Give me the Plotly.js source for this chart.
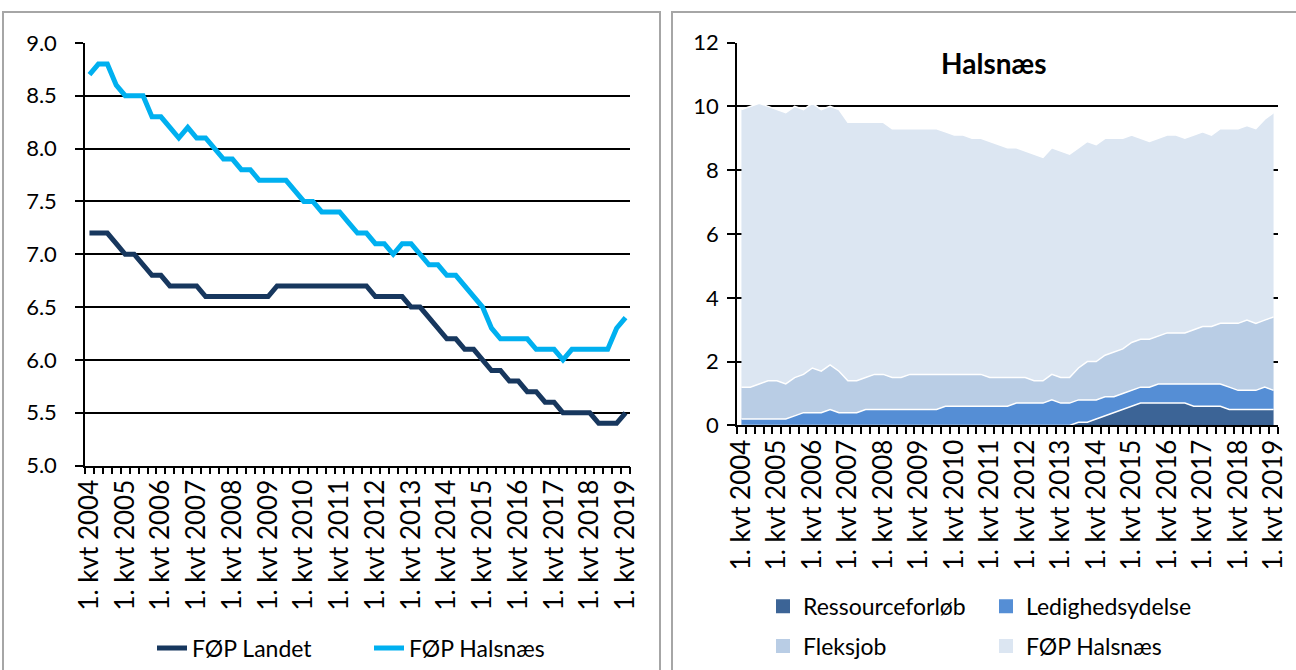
<!DOCTYPE html>
<html>
<head>
<meta charset="utf-8">
<script src="https://cdn.plot.ly/plotly-3.0.1.min.js"></script>
<style>html,body{margin:0;padding:0;background:#fff}#chart{width:1296px;height:670px}</style>
</head>
<body>
<div id="chart"></div>
<script>
// Categories: quarters 1. kvt 2004 ... 1. kvt 2019
const years = [2004,2005,2006,2007,2008,2009,2010,2011,2012,2013,2014,2015,2016,2017,2018,2019];
const quarters = [];
years.forEach(function(y){ [1,2,3,4].forEach(function(q){ if (y < 2019 || q === 1) quarters.push(q + '. kvt ' + y); }); });

const tickLabels = ['1. kvt 2004','1. kvt 2005','1. kvt 2006','1. kvt 2007','1. kvt 2008','1. kvt 2009','1. kvt 2010','1. kvt 2011',
                    '1. kvt 2012','1. kvt 2013','1. kvt 2014','1. kvt 2015','1. kvt 2016','1. kvt 2017','1. kvt 2018','1. kvt 2019'];

// Left chart series
const fopLandet = [7.2,7.2,7.2,7.1,7.0,7.0,6.9,6.8,6.8,6.7,
                   6.7,6.7,6.7,6.6,6.6,6.6,6.6,6.6,6.6,6.6,
                   6.6,6.7,6.7,6.7,6.7,6.7,6.7,6.7,6.7,6.7,
                   6.7,6.7,6.6,6.6,6.6,6.6,6.5,6.5,6.4,6.3,
                   6.2,6.2,6.1,6.1,6.0,5.9,5.9,5.8,5.8,5.7,
                   5.7,5.6,5.6,5.5,5.5,5.5,5.5,5.4,5.4,5.4,
                   5.5];
const fopHalsnaes = [8.7,8.8,8.8,8.6,8.5,8.5,8.5,8.3,8.3,8.2,
                     8.1,8.2,8.1,8.1,8.0,7.9,7.9,7.8,7.8,7.7,
                     7.7,7.7,7.7,7.6,7.5,7.5,7.4,7.4,7.4,7.3,
                     7.2,7.2,7.1,7.1,7.0,7.1,7.1,7.0,6.9,6.9,
                     6.8,6.8,6.7,6.6,6.5,6.3,6.2,6.2,6.2,6.2,
                     6.1,6.1,6.1,6.0,6.1,6.1,6.1,6.1,6.1,6.3,
                     6.4];

// Right chart (stacked) series
const ressourceforloeb = [0,0,0,0,0,0,0,0,0,0,
                          0,0,0,0,0,0,0,0,0,0,
                          0,0,0,0,0,0,0,0,0,0,
                          0,0,0,0,0,0,0,0,0.1,0.1,
                          0.2,0.3,0.4,0.5,0.6,0.7,0.7,0.7,0.7,0.7,
                          0.7,0.6,0.6,0.6,0.6,0.5,0.5,0.5,0.5,0.5,
                          0.5];
const ledighedsydelse = [0.2,0.2,0.2,0.2,0.2,0.2,0.3,0.4,0.4,0.4,
                         0.5,0.4,0.4,0.4,0.5,0.5,0.5,0.5,0.5,0.5,
                         0.5,0.5,0.5,0.6,0.6,0.6,0.6,0.6,0.6,0.6,
                         0.6,0.7,0.7,0.7,0.7,0.8,0.7,0.7,0.7,0.7,
                         0.6,0.6,0.5,0.5,0.5,0.5,0.5,0.6,0.6,0.6,
                         0.6,0.7,0.7,0.7,0.7,0.7,0.6,0.6,0.6,0.7,
                         0.6];
const fleksjob = [1.0,1.0,1.1,1.2,1.2,1.1,1.2,1.2,1.4,1.3,
                  1.4,1.3,1.0,1.0,1.0,1.1,1.1,1.0,1.0,1.1,
                  1.1,1.1,1.1,1.0,1.0,1.0,1.0,1.0,0.9,0.9,
                  0.9,0.8,0.8,0.7,0.7,0.8,0.8,0.8,1.0,1.2,
                  1.2,1.3,1.4,1.4,1.5,1.5,1.5,1.5,1.6,1.6,
                  1.6,1.7,1.8,1.8,1.9,2.0,2.1,2.2,2.1,2.1,
                  2.3];

const xi = quarters.map(function(q, i){ return i; });
const tickIdx = tickLabels.map(function(l){ return quarters.indexOf(l); });

const FONT = 'Lato, "Open Sans", sans-serif';
const W = 1296, H = 670;
function px(x){ return x / W; }
function py(y){ return 1 - y / H; }

const colLandet = '#17375E', colHals = '#00B0F0';
const colRes = '#3C6496', colLed = '#558ED5', colFleks = '#B9CDE5', colFop = '#DCE6F2';

const traces = [
  {x: xi, y: fopLandet, text: quarters, name: 'FØP Landet', type: 'scatter', mode: 'lines',
   line: {color: colLandet, width: 5}, xaxis: 'x', yaxis: 'y', legend: 'legend'},
  {x: xi, y: fopHalsnaes, text: quarters, name: 'FØP Halsnæs', type: 'scatter', mode: 'lines',
   line: {color: colHals, width: 5}, xaxis: 'x', yaxis: 'y', legend: 'legend'},

  {x: xi, y: ressourceforloeb, name: 'Ressourceforløb', type: 'scatter', mode: 'lines', stackgroup: 'one',
   line: {color: '#FFFFFF', width: 1.5}, fillcolor: colRes, xaxis: 'x2', yaxis: 'y2', showlegend: false},
  {x: xi, y: ledighedsydelse, name: 'Ledighedsydelse', type: 'scatter', mode: 'lines', stackgroup: 'one',
   line: {color: '#FFFFFF', width: 1.5}, fillcolor: colLed, xaxis: 'x2', yaxis: 'y2', showlegend: false},
  {x: xi, y: fleksjob, name: 'Fleksjob', type: 'scatter', mode: 'lines', stackgroup: 'one',
   line: {color: '#FFFFFF', width: 1.5}, fillcolor: colFleks, xaxis: 'x2', yaxis: 'y2', showlegend: false},
  {x: xi, y: fopHalsnaes, name: 'FØP Halsnæs', type: 'scatter', mode: 'lines', stackgroup: 'one',
   line: {color: '#FFFFFF', width: 1.5}, fillcolor: colFop, xaxis: 'x2', yaxis: 'y2', showlegend: false},

  // legend entries (square swatches) for the stacked chart
  {x: [null], y: [null], name: 'Ressourceforløb', type: 'scatter', mode: 'markers',
   marker: {symbol: 'square', size: 14, color: colRes}, xaxis: 'x2', yaxis: 'y2', legend: 'legend2'},
  {x: [null], y: [null], name: 'Ledighedsydelse', type: 'scatter', mode: 'markers',
   marker: {symbol: 'square', size: 14, color: colLed}, xaxis: 'x2', yaxis: 'y2', legend: 'legend2'},
  {x: [null], y: [null], name: 'Fleksjob', type: 'scatter', mode: 'markers',
   marker: {symbol: 'square', size: 14, color: colFleks}, xaxis: 'x2', yaxis: 'y2', legend: 'legend3'},
  {x: [null], y: [null], name: 'FØP Halsnæs', type: 'scatter', mode: 'markers',
   marker: {symbol: 'square', size: 14, color: colFop}, xaxis: 'x2', yaxis: 'y2', legend: 'legend3'}
];

const xCommon = {
  range: [-0.5, 60.5], tickmode: 'array', tickvals: tickIdx, ticktext: tickLabels, tickangle: -90,
  ticks: '', showgrid: false, zeroline: false, showline: true, linecolor: '#000', linewidth: 1.5,
  minor: {ticks: 'outside', tick0: -0.5, dtick: 1, ticklen: 7, tickwidth: 1.5, tickcolor: '#000', showgrid: false},
  ticklabelstandoff: 2, tickfont: {family: FONT, size: 26, color: '#000'}, fixedrange: true
};
const yCommon = {
  ticks: 'outside', ticklen: 8, tickwidth: 1.5, tickcolor: '#000', showgrid: true, gridcolor: '#000', gridwidth: 1.5,
  zeroline: false, showline: true, linecolor: '#000', linewidth: 1.5, tickfont: {family: FONT, size: 22, color: '#000'},
  fixedrange: true
};

const legendCommon = {orientation: 'h', xanchor: 'left', yanchor: 'middle', bgcolor: 'rgba(0,0,0,0)',
  font: {family: FONT, size: 23, color: '#000'}, entrywidthmode: 'pixels', traceorder: 'normal'};

const layout = {
  width: W, height: H, margin: {l: 0, r: 0, t: 0, b: 0},
  paper_bgcolor: '#FFFFFF', plot_bgcolor: 'rgba(0,0,0,0)',
  font: {family: FONT, size: 22, color: '#000'},
  showlegend: true,
  xaxis: Object.assign({}, xCommon, {domain: [px(85), px(630)], anchor: 'y'}),
  yaxis: Object.assign({}, yCommon, {domain: [py(467), py(43)], range: [5, 9], dtick: 0.5, tick0: 5, tickformat: '.1f',
                                     ticklabelstandoff: 14, anchor: 'x'}),
  xaxis2: Object.assign({}, xCommon, {domain: [px(737), px(1278)], anchor: 'y2'}),
  yaxis2: Object.assign({}, yCommon, {domain: [py(426.7), py(42.7)], range: [0, 12], dtick: 2, tick0: 0,
                                      ticklabelstandoff: 4, anchor: 'x2'}),
  legend: Object.assign({}, legendCommon, {x: px(152), y: py(650), entrywidth: 172}),
  legend2: Object.assign({}, legendCommon, {x: px(763), y: py(608), entrywidth: 178}),
  legend3: Object.assign({}, legendCommon, {x: px(763), y: py(648), entrywidth: 178}),
  annotations: [
    {text: '<b>Halsnæs</b>', xref: 'paper', yref: 'paper', x: px(993), y: py(63), xanchor: 'center', yanchor: 'middle',
     showarrow: false, font: {family: FONT, size: 28, color: '#000'}}
  ],
  shapes: [
    {type: 'rect', xref: 'paper', yref: 'paper', x0: px(3), x1: px(660), y0: -0.05, y1: py(12),
     line: {color: '#A6A6A6', width: 2}, fillcolor: 'rgba(0,0,0,0)', layer: 'below'},
    {type: 'rect', xref: 'paper', yref: 'paper', x0: px(672), x1: 1.05, y0: -0.05, y1: py(12),
     line: {color: '#A6A6A6', width: 2}, fillcolor: 'rgba(0,0,0,0)', layer: 'below'}
  ]
};

Plotly.newPlot('chart', traces, layout, {displayModeBar: false, responsive: false});
</script>
</body>
</html>
